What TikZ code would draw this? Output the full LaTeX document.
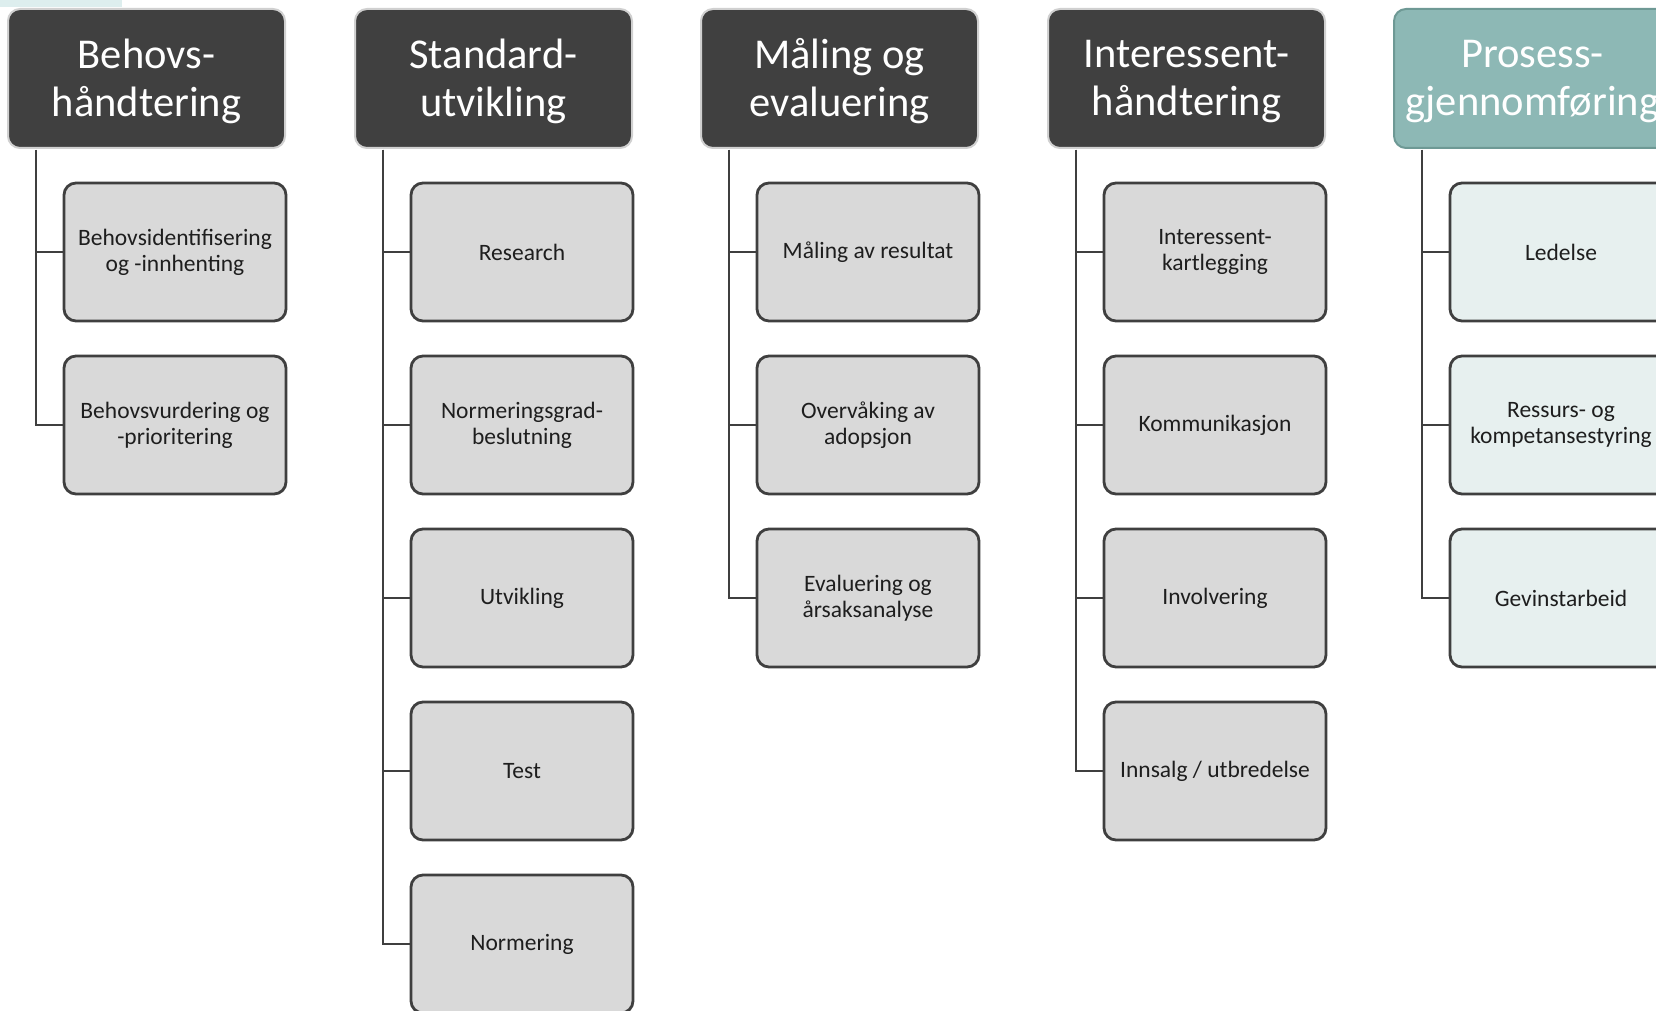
\documentclass[tikz,border=0pt]{standalone}
\usepackage{fontspec}
\setmainfont{Carlito}
\definecolor{hdark}{HTML}{404040}
\definecolor{hborder}{HTML}{D0D0D0}
\definecolor{cfill}{HTML}{D9D9D9}
\definecolor{cline}{HTML}{3F3F3F}
\definecolor{ctext}{HTML}{1E1E1E}
\definecolor{tealh}{HTML}{8DB8B5}
\definecolor{tealb}{HTML}{6E9995}
\definecolor{tealc}{HTML}{E7F0EF}
\definecolor{tealband}{HTML}{DDEEEE}
\tikzset{
  hdr/.style={rectangle, rounded corners=12pt, draw=hborder, line width=2pt, fill=hdark,
    minimum width=277pt, minimum height=139pt, inner sep=0pt},
  hdrteal/.style={hdr, fill=tealh, draw=tealb},
  hdrtext/.style={inner sep=0pt, align=center, text=white,
    font=\fontsize{42.5}{48}\selectfont},
  child/.style={rectangle, rounded corners=12pt, draw=cline, line width=2.8pt, fill=cfill,
    minimum width=222pt, minimum height=138pt, inner sep=0pt, align=center, text=ctext,
    font=\fontsize{23.5}{26}\selectfont},
  childteal/.style={child, fill=tealc},
  conn/.style={draw=cline, line width=2.8pt}
}
\begin{document}
\begin{tikzpicture}[x=1pt,y=-1pt]
\useasboundingbox (0,0) rectangle (1656,1011);
\clip (0,0) rectangle (1656,1011);
\fill[tealband] (0,0) rectangle (122,7);
% headers
\node[hdr] (h1) at (146.5,78.5) {};
\node[hdr] (h2) at (493.5,78.5) {};
\node[hdr] (h3) at (839.5,78.5) {};
\node[hdr] (h4) at (1186.5,78.5) {};
\node[hdrteal] (h5) at (1532.5,78.5) {};
\node[hdrtext] (h1t) at ([yshift=-3pt]h1.center) {Behovs-\\håndtering};
\node[hdrtext] (h2t) at ([yshift=-3pt]h2.center) {Standard-\\utvikling};
\node[hdrtext] (h3t) at ([yshift=-3pt]h3.center) {Måling og\\evaluering};
\node[hdrtext] (h4t) at ([yshift=-3pt]h4.center) {Interessent-\\håndtering};
\node[hdrtext] (h5t) at ([yshift=-3pt]h5.center) {Prosess-\\gjennomføring};
% column 1
\node[child] (c11) at (175,252) {Behovsidentifisering\\og -innhenting};
\node[child] (c12) at (175,425) {Behovsvurdering og\\-prioritering};
% column 2
\node[child] (c21) at (522,252) {Research};
\node[child] (c22) at (522,425) {Normeringsgrad-\\beslutning};
\node[child] (c23) at (522,598) {Utvikling};
\node[child] (c24) at (522,771) {Test};
\node[child] (c25) at (522,944) {Normering};
% column 3
\node[child] (c31) at (868,252) {Måling av resultat};
\node[child] (c32) at (868,425) {Overvåking av\\adopsjon};
\node[child] (c33) at (868,598) {Evaluering og\\årsaksanalyse};
% column 4
\node[child] (c41) at (1215,252) {Interessent-\\kartlegging};
\node[child] (c42) at (1215,425) {Kommunikasjon};
\node[child] (c43) at (1215,598) {Involvering};
\node[child] (c44) at (1215,771) {Innsalg / utbredelse};
% column 5
\node[childteal] (c51) at (1561,252) {Ledelse};
\node[childteal] (c52) at (1561,425) {Ressurs- og\\kompetansestyring};
\node[childteal] (c53) at (1561,598) {Gevinstarbeid};
% connectors
\foreach \h/\list in {h1/{c11,c12}, h2/{c21,c22,c23,c24,c25}, h3/{c31,c32,c33}, h4/{c41,c42,c43,c44}, h5/{c51,c52,c53}}{
  \foreach \c in \list {
    \draw[conn] ([xshift=29pt,yshift=-1pt]\h.south west) |- (\c.west);
  }
}
\end{tikzpicture}
\end{document}
